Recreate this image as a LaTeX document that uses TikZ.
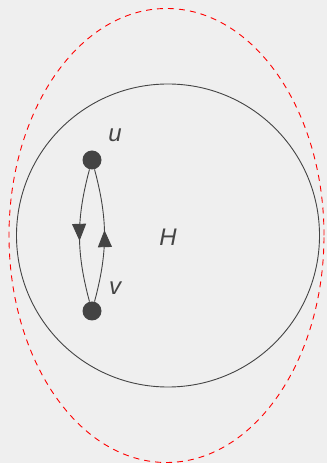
\documentclass[tikz,border=0pt]{standalone}
\usepackage{fontspec}
\setmainfont{Liberation Sans}
\usepackage{tikz}
\usetikzlibrary{positioning, arrows.meta, decorations.markings}
\usepackage{xcolor}
\definecolor{bggray}{HTML}{EFEFEF}
\definecolor{inkgray}{HTML}{444444}

\begin{document}
\begin{tikzpicture}[
    x=1pt, y=1pt,
    vertex/.style={circle, fill=inkgray, draw=none, minimum size=19pt, inner sep=0pt},
    lbl/.style={text=inkgray, font=\fontsize{24}{24}\selectfont\itshape, inner sep=0pt},
    edge/.style={draw=inkgray, line width=0.9pt, postaction={decorate},
        decoration={markings, mark=at position 0.54 with {\arrow{Triangle[length=17pt, width=14pt]}}}},
    region/.style={draw=inkgray, line width=0.9pt},
    outer/.style={draw=red, line width=0.9pt, dash pattern=on 6pt off 5pt}
]

% Background
\fill[bggray] (0,0) rectangle (327,463);
\useasboundingbox (0,0) rectangle (327,463);

% Outer dashed region
\draw [outer] (166.5,227.5) ellipse [x radius=157.5, y radius=227];

% Subgraph H
\draw [region] (168,227.5) circle [radius=151.5];
\node (hlabel) [lbl] at (168,226) {H};

% Vertices
\node (u) [vertex] at (92,303) {};
\node (v) [vertex] at (92,152) {};
\node (ulabel) [lbl] at (115,328) {u};
\node (vlabel) [lbl] at (115,175) {v};

% Edges u -> v and v -> u
\draw [edge] (u) to [bend right=15] (v);
\draw [edge] (v) to [bend right=15] (u);

\end{tikzpicture}
\end{document}
